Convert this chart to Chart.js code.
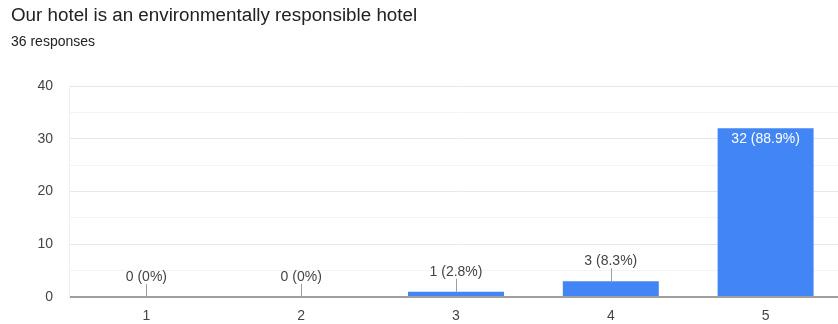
<!DOCTYPE html>
<html>
<head>
<meta charset="utf-8">
<script src="https://cdn.jsdelivr.net/npm/chart.js@4"></script>
<style>
  html, body { margin: 0; padding: 0; background: #fff; }
  #wrap { position: relative; width: 838px; height: 324px; overflow: hidden; }
  #title { position: absolute; left: 11px; top: 4px; font: 18.8px "Liberation Sans", Arial, sans-serif; color: #202124; white-space: nowrap; }
  #subtitle { position: absolute; left: 11px; top: 33px; font: 14px "Liberation Sans", Arial, sans-serif; color: #202124; white-space: nowrap; }
  #cv { position: absolute; left: 0; top: 0; }
</style>
</head>
<body>
<div id="wrap">
  <canvas id="cv" width="844" height="324"></canvas>
  <div id="title">Our hotel is an environmentally responsible hotel</div>
  <div id="subtitle">36 responses</div>
</div>
<script>
const categories = ['1', '2', '3', '4', '5'];
const counts = [0, 0, 1, 3, 32];
const totalResponses = 36;
const yTickLabels = [0, 10, 20, 30, 40];

const FONT = '"Liberation Sans", Arial, sans-serif';

const barLabels = {
  id: 'barLabels',
  afterDatasetsDraw(chart) {
    const ctx = chart.ctx;
    const meta = chart.getDatasetMeta(0);
    ctx.save();
    ctx.font = '14px ' + FONT;
    ctx.textAlign = 'center';
    ctx.textBaseline = 'middle';
    meta.data.forEach((bar, i) => {
      const v = counts[i];
      const pct = v === 0 ? '0%' : (v / totalResponses * 100).toFixed(1) + '%';
      const text = v + ' (' + pct + ')';
      const h = bar.base - bar.y;
      if (h > 30) {
        ctx.fillStyle = '#ffffff';
        ctx.fillText(text, bar.x, bar.y + 11);
      } else {
        ctx.strokeStyle = '#9e9e9e';
        ctx.lineWidth = 1;
        ctx.beginPath();
        ctx.moveTo(Math.round(bar.x) + 0.5, bar.y);
        ctx.lineTo(Math.round(bar.x) + 0.5, bar.y - 13);
        ctx.stroke();
        ctx.fillStyle = '#444444';
        ctx.fillText(text, bar.x, bar.y - 20);
      }
    });
    ctx.restore();
  }
};

new Chart(document.getElementById('cv'), {
  type: 'bar',
  data: {
    labels: categories,
    datasets: [{
      data: counts,
      backgroundColor: '#4285F4',
      borderWidth: 0,
      barPercentage: 0.62,
      categoryPercentage: 1.0
    }]
  },
  options: {
    responsive: false,
    animation: false,
    events: [],
    layout: { padding: { top: 86, right: 1, bottom: 0, left: 0 } },
    plugins: { legend: { display: false }, tooltip: { enabled: false } },
    scales: {
      x: {
        grid: { display: false, drawTicks: false },
        border: { display: false },
        ticks: { color: '#444', font: { family: FONT, size: 14 }, padding: 11 },
        afterFit(scale) { scale.height = 27; }
      },
      y: {
        min: 0,
        max: 40,
        ticks: {
          stepSize: 5,
          color: '#444',
          font: { family: FONT, size: 14 },
          padding: 16,
          callback: (v) => yTickLabels.includes(v) ? String(v) : ''
        },
        grid: {
          drawTicks: false,
          color: (c) => c.tick.value === 0 ? '#9e9e9e' : (c.tick.value % 10 === 0 ? '#e8e8e8' : '#f4f4f4'),
          lineWidth: (c) => c.tick.value === 0 ? 2 : 1
        },
        border: { display: true, color: '#f0f0f0' },
        afterFit(scale) { scale.width = 69; }
      }
    }
  },
  plugins: [barLabels]
});
</script>
</body>
</html>
